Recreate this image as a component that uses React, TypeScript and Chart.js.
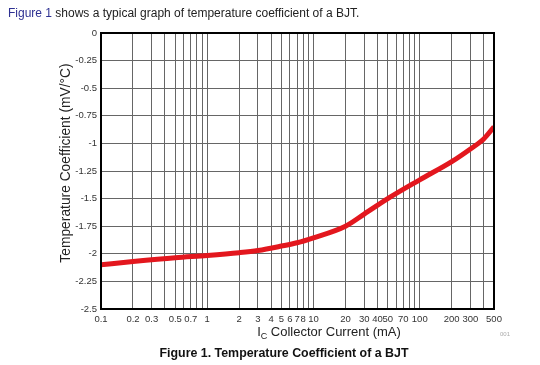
import React, { useEffect, useRef } from "react";
import { Chart, registerables } from "chart.js";

Chart.register(...registerables);

// Collector current (mA) and temperature coefficient (mV/°C)
const currents = [0.1, 0.2, 0.5, 1, 2, 3, 5, 7, 10, 20, 30, 50, 100, 200, 300, 400, 500];
const tempCoeff = [-2.1, -2.07, -2.035, -2.015, -1.99, -1.97, -1.93, -1.9, -1.855, -1.75, -1.64, -1.5, -1.33, -1.165, -1.05, -0.96, -0.85];

// Log grid lines and their labels
const xGridValues = [
  0.1, 0.2, 0.3, 0.4, 0.5, 0.6, 0.7, 0.8, 0.9,
  1, 2, 3, 4, 5, 6, 7, 8, 9,
  10, 20, 30, 40, 50, 60, 70, 80, 90,
  100, 200, 300, 400, 500,
];
const xTickLabels = ["0.1", "0.2", "0.3", "0.5", "0.7", "1", "2", "3", "4", "5", "6", "7", "8", "10", "20", "30", "40", "50", "70", "100", "200", "300", "500"];
const yTickValues = [0, -0.25, -0.5, -0.75, -1, -1.25, -1.5, -1.75, -2, -2.25, -2.5];
const yTickLabels = ["0", "-0.25", "-0.5", "-0.75", "-1", "-1.25", "-1.5", "-1.75", "-2", "-2.25", "-2.5"];

const headerLink = "Figure 1";
const headerText = " shows a typical graph of temperature coefficient of a BJT.";
const yTitle = "Temperature Coefficient (mV/°C)";
const xTitleMain = "I";
const xTitleSub = "C";
const xTitleRest = " Collector Current (mA)";
const caption = "Figure 1. Temperature Coefficient of a BJT";
const figId = "001";

const FONT = '"Liberation Sans", Arial, sans-serif';

export default function App() {
  const ref = useRef<HTMLCanvasElement | null>(null);

  useEffect(() => {
    document.body.style.margin = "0";
    const canvas = ref.current;
    if (!canvas) return;

    const decorations = {
      id: "decorations",
      afterDraw(chart: any) {
        const { ctx, chartArea } = chart;
        const { left, top, right, bottom } = chartArea;
        ctx.save();
        // frame
        ctx.strokeStyle = "#000";
        ctx.lineWidth = 2;
        ctx.strokeRect(left, top, right - left, bottom - top);

        // header
        ctx.textBaseline = "alphabetic";
        ctx.textAlign = "left";
        ctx.font = `12px ${FONT}`;
        ctx.fillStyle = "#2e3192";
        ctx.fillText(headerLink, 8, 17);
        const w = ctx.measureText(headerLink).width;
        ctx.fillStyle = "#222";
        ctx.fillText(headerText, 8 + w, 17);

        // y title
        ctx.save();
        ctx.translate(66, 163);
        ctx.rotate(-Math.PI / 2);
        ctx.textAlign = "center";
        ctx.textBaseline = "middle";
        ctx.font = `13.8px ${FONT}`;
        ctx.fillStyle = "#222";
        ctx.fillText(yTitle, 0, 0);
        ctx.restore();

        // x title with subscript
        ctx.font = `13px ${FONT}`;
        const wI = ctx.measureText(xTitleMain).width;
        const wRest = ctx.measureText(xTitleRest).width;
        ctx.font = `9px ${FONT}`;
        const wC = ctx.measureText(xTitleSub).width;
        const total = wI + wC + wRest;
        let x = 329 - total / 2;
        ctx.fillStyle = "#222";
        ctx.font = `13px ${FONT}`;
        ctx.fillText(xTitleMain, x, 336);
        x += wI;
        ctx.font = `9px ${FONT}`;
        ctx.fillText(xTitleSub, x, 339);
        x += wC;
        ctx.font = `13px ${FONT}`;
        ctx.fillText(xTitleRest, x, 336);

        // figure id
        ctx.font = `6px ${FONT}`;
        ctx.fillStyle = "#aaa";
        ctx.fillText(figId, 500, 336);

        // caption
        ctx.font = `bold 12.4px ${FONT}`;
        ctx.fillStyle = "#111";
        ctx.textAlign = "center";
        ctx.fillText(caption, 284, 357);
        ctx.restore();
      },
    };

    const chart = new Chart(canvas, {
      type: "line",
      data: {
        datasets: [
          {
            data: currents.map((c, i) => ({ x: c, y: tempCoeff[i] })),
            borderColor: "#e3171e",
            borderWidth: 5,
            pointRadius: 0,
            cubicInterpolationMode: "monotone",
            fill: false,
          },
        ],
      },
      options: {
        animation: false,
        responsive: false,
        maintainAspectRatio: false,
        layout: { padding: { left: 0, top: 33, right: 46, bottom: 0 } },
        plugins: { legend: { display: false }, tooltip: { enabled: false } },
        scales: {
          x: {
            type: "logarithmic",
            min: 0.1,
            max: 500,
            afterBuildTicks: (scale: any) => {
              scale.ticks = xGridValues.map((v) => ({ value: v }));
            },
            afterFit: (scale: any) => {
              scale.height = 56;
            },
            grid: { color: "#666666", lineWidth: 1, drawTicks: false },
            border: { display: false },
            ticks: {
              autoSkip: false,
              maxRotation: 0,
              padding: 5,
              color: "#333",
              font: { family: FONT, size: 9.5 },
              callback: (value: any) => {
                const v = Number(value);
                const l = xTickLabels.find((s) => Math.abs(Number(s) - v) < 1e-9);
                return l ?? "";
              },
            },
          },
          y: {
            type: "linear",
            min: -2.5,
            max: 0,
            afterBuildTicks: (scale: any) => {
              scale.ticks = yTickValues.map((v) => ({ value: v }));
            },
            afterFit: (scale: any) => {
              scale.width = 101;
            },
            grid: { color: "#666666", lineWidth: 1, drawTicks: false },
            border: { display: false },
            ticks: {
              padding: 4,
              color: "#333",
              font: { family: FONT, size: 9.5 },
              callback: (value: any) => {
                const v = Number(value);
                const i = yTickValues.findIndex((t) => Math.abs(t - v) < 1e-9);
                return i >= 0 ? yTickLabels[i] : "";
              },
            },
          },
        },
      },
      plugins: [decorations],
    });

    return () => chart.destroy();
  }, []);

  return (
    <div style={{ position: "relative", width: 540, height: 365, background: "#fff" }}>
      <canvas ref={ref} width={540} height={365} style={{ display: "block", width: 540, height: 365 }} />
    </div>
  );
}
